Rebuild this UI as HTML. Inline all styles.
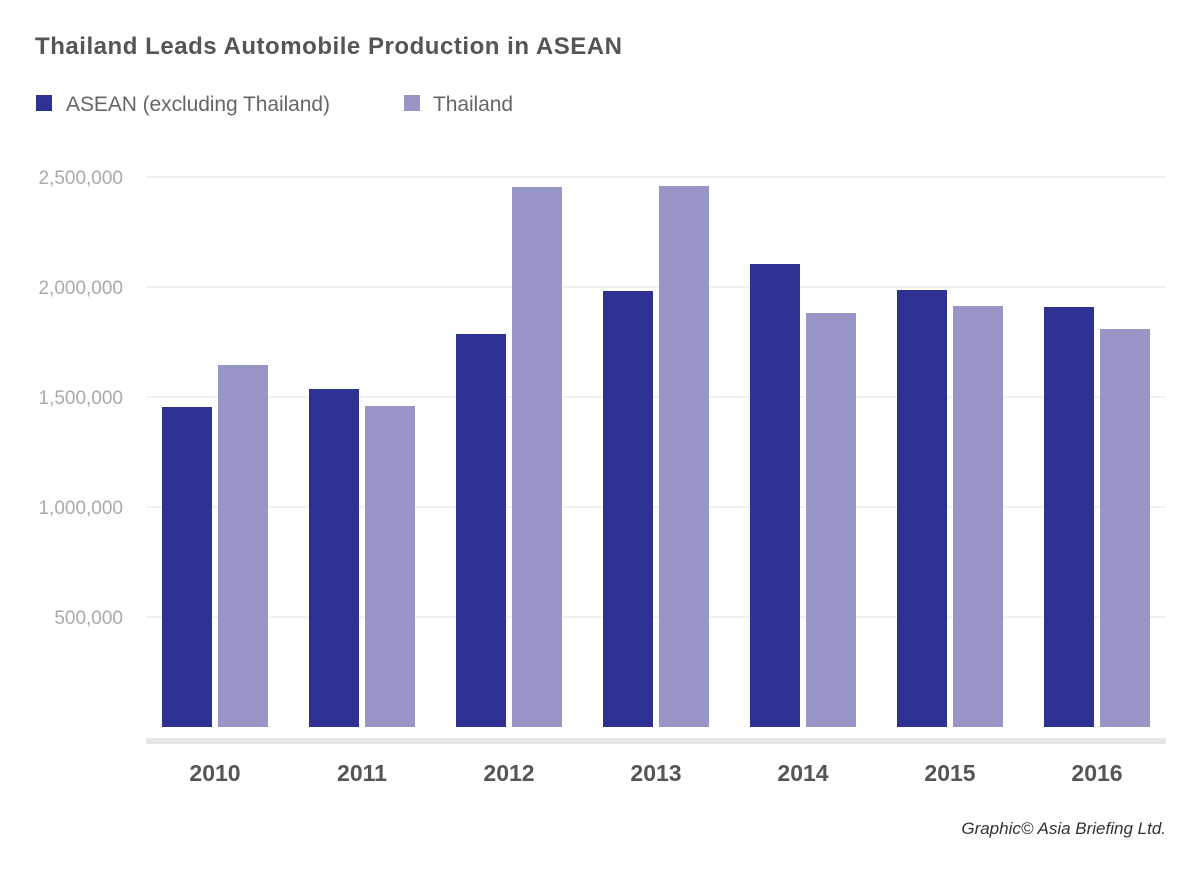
<!DOCTYPE html>
<html><head><meta charset="utf-8"><style>body{margin:0;background:#fff}svg{display:block}</style></head><body>
<svg width="1200" height="872" viewBox="0 0 1200 872" font-family="Liberation Sans, sans-serif">
<text x="35" y="54" font-size="24" font-weight="bold" fill="#555" textLength="587">Thailand Leads Automobile Production in ASEAN</text>
<rect x="36" y="95" width="16" height="16" fill="#2e3192"/>
<text x="66" y="111" font-size="21" fill="#666" textLength="264">ASEAN (excluding Thailand)</text>
<rect x="404" y="95" width="16" height="16" fill="#9896c7"/>
<text x="433" y="111" font-size="21" fill="#666" textLength="80">Thailand</text>
<g stroke="#eeeeee" stroke-width="1.5">
<line x1="146" y1="177" x2="1166" y2="177"/><line x1="146" y1="287" x2="1166" y2="287"/><line x1="146" y1="397" x2="1166" y2="397"/><line x1="146" y1="507" x2="1166" y2="507"/><line x1="146" y1="617" x2="1166" y2="617"/>
</g>
<g font-size="19" fill="#aaa" text-anchor="end">
<text x="123" y="184">2,500,000</text><text x="123" y="294">2,000,000</text><text x="123" y="404">1,500,000</text><text x="123" y="514">1,000,000</text><text x="123" y="624">500,000</text>
</g>
<g fill="#2e3192">
<rect x="162" y="407" width="50" height="320"/><rect x="309" y="389" width="50" height="338"/><rect x="456" y="334" width="50" height="393"/><rect x="603" y="291" width="50" height="436"/><rect x="750" y="264" width="50" height="463"/><rect x="897" y="290" width="50" height="437"/><rect x="1044" y="307" width="50" height="420"/>
</g>
<g fill="#9896c7">
<rect x="218" y="365" width="50" height="362"/><rect x="365" y="406" width="50" height="321"/><rect x="512" y="187" width="50" height="540"/><rect x="659" y="186" width="50" height="541"/><rect x="806" y="313" width="50" height="414"/><rect x="953" y="306" width="50" height="421"/><rect x="1100" y="329" width="50" height="398"/>
</g>
<rect x="146" y="738" width="1020" height="6" fill="#e6e6e6"/>
<g font-size="23" font-weight="bold" fill="#555" text-anchor="middle">
<text x="215" y="781">2010</text><text x="362" y="781">2011</text><text x="509" y="781">2012</text><text x="656" y="781">2013</text><text x="803" y="781">2014</text><text x="950" y="781">2015</text><text x="1097" y="781">2016</text>
</g>
<text x="1166" y="834" font-size="17" font-style="italic" fill="#333" text-anchor="end">Graphic© Asia Briefing Ltd.</text>
</svg>
</body></html>
